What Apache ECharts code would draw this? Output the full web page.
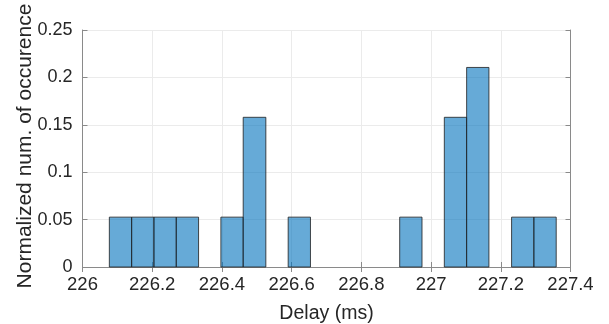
<!DOCTYPE html>
<html>
<head>
<meta charset="utf-8">
<script src="https://cdn.jsdelivr.net/npm/echarts@6/dist/echarts.min.js"></script>
<style>
  html, body { margin: 0; padding: 0; background: #fff; }
  #chart { width: 609px; height: 324px; }
</style>
</head>
<body>
<div id="chart"></div>
<script>
// Histogram bin edges (ms) and normalized counts per bin
const binEdges = [226.077, 226.141, 226.205, 226.269, 226.333, 226.397, 226.461,
                  226.526, 226.590, 226.654, 226.718, 226.782, 226.846, 226.910,
                  226.974, 227.038, 227.102, 227.166, 227.231, 227.295, 227.359];
const binValues = [0.0526, 0.0526, 0.0526, 0.0526, 0, 0.0526, 0.1579, 0, 0.0526, 0,
                   0, 0, 0, 0.0526, 0, 0.1579, 0.2105, 0, 0.0526, 0.0526];
const xTicks = [226, 226.2, 226.4, 226.6, 226.8, 227, 227.2, 227.4];
const yTicks = [0, 0.05, 0.1, 0.15, 0.2, 0.25];

const xLabel = 'Delay (ms)';
const yLabel = 'Normalized num. of occurence';

const bins = binValues
  .map((v, i) => [binEdges[i], binEdges[i + 1], v])
  .filter(d => d[2] > 0);

const font = 'Liberation Sans, Arial, Helvetica, sans-serif';
const axisGray = '#8a8a8a';

const xRange = { min: xTicks[0], max: xTicks[xTicks.length - 1], interval: 0.2 };
const yRange = { min: yTicks[0], max: yTicks[yTicks.length - 1], interval: 0.05 };

const chart = echarts.init(document.getElementById('chart'), null, { renderer: 'canvas' });
chart.setOption({
  animation: false,
  backgroundColor: '#ffffff',
  grid: { left: 82.5, right: 38.5, top: 30, bottom: 57, outerBoundsMode: 'none', containLabel: false },
  xAxis: [{
    type: 'value', ...xRange,
    name: xLabel, nameLocation: 'middle', nameGap: 37, nameMoveOverlap: false,
    nameTextStyle: { fontFamily: font, fontSize: 19.5, color: '#262626' },
    axisLine: { show: true, lineStyle: { color: axisGray, width: 1 } },
    axisTick: { show: true, inside: true, length: 5, lineStyle: { color: axisGray } },
    axisLabel: { fontFamily: font, fontSize: 18.5, color: '#262626', margin: 8,
                 formatter: v => String(+v.toFixed(1)) },
    splitLine: { show: true, lineStyle: { color: '#ebebeb', width: 1 } }
  }, {
    type: 'value', ...xRange, position: 'top',
    axisLine: { show: true, lineStyle: { color: axisGray, width: 1 } },
    axisTick: { show: true, inside: true, length: 5, lineStyle: { color: axisGray } },
    axisLabel: { show: false }, splitLine: { show: false }
  }],
  yAxis: [{
    type: 'value', ...yRange,
    name: yLabel, nameLocation: 'middle', nameGap: 47, nameMoveOverlap: false,
    nameTextStyle: { fontFamily: font, fontSize: 21, color: '#262626', padding: [0, 0, 0, 5] },
    axisLine: { show: true, lineStyle: { color: axisGray, width: 1 } },
    axisTick: { show: true, inside: true, length: 5, lineStyle: { color: axisGray } },
    axisLabel: { fontFamily: font, fontSize: 18, color: '#262626', margin: 10,
                 formatter: v => String(+v.toFixed(2)) },
    splitLine: { show: true, lineStyle: { color: '#ebebeb', width: 1 } }
  }, {
    type: 'value', ...yRange, position: 'right',
    axisLine: { show: true, lineStyle: { color: axisGray, width: 1 } },
    axisTick: { show: true, inside: true, length: 5, lineStyle: { color: axisGray } },
    axisLabel: { show: false }, splitLine: { show: false }
  }],
  series: [{
    type: 'custom',
    xAxisIndex: 0, yAxisIndex: 0,
    data: bins,
    encode: { x: [0, 1], y: 2 },
    renderItem: (params, api) => {
      const p0 = api.coord([api.value(0), 0]);
      const p1 = api.coord([api.value(1), api.value(2)]);
      return {
        type: 'rect',
        shape: { x: p0[0], y: p1[1], width: p1[0] - p0[0], height: p0[1] - p1[1] },
        style: { fill: 'rgba(0,114,189,0.6)', stroke: '#1e1e1e', lineWidth: 0.8 }
      };
    }
  }]
});
</script>
</body>
</html>
